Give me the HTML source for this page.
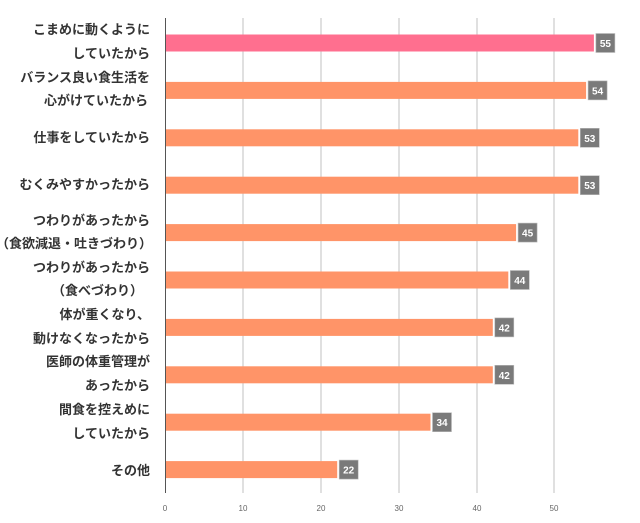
<!DOCTYPE html>
<html><head><meta charset="utf-8"><style>
body{margin:0;background:#fff;width:640px;height:518px;overflow:hidden}
svg text{font-family:"Liberation Sans","Noto Sans CJK JP",sans-serif}
</style></head><body>
<svg width="640" height="518" xmlns="http://www.w3.org/2000/svg">
<g stroke="#d0d0d0" stroke-width="1.3">
<line x1="243" y1="18" x2="243" y2="493"/><line x1="321" y1="18" x2="321" y2="493"/>
<line x1="399" y1="18" x2="399" y2="493"/><line x1="477" y1="18" x2="477" y2="493"/>
<line x1="554" y1="18" x2="554" y2="493"/>
</g>
<line x1="165.5" y1="18" x2="165.5" y2="493" stroke="#555" stroke-width="1"/>
<g font-size="8" fill="#666" text-anchor="middle">
<text x="165" y="511">0</text><text x="243" y="511">10</text><text x="321" y="511">20</text>
<text x="399" y="511">30</text><text x="477" y="511">40</text><text x="554" y="511">50</text>
</g>
<g>
<rect x="166" y="34.5" width="427.9" height="17" fill="#ff6f8f"/>
<rect x="166" y="81.9" width="420.1" height="17" fill="#ff9468"/>
<rect x="166" y="129.3" width="412.3" height="17" fill="#ff9468"/>
<rect x="166" y="176.7" width="412.3" height="17" fill="#ff9468"/>
<rect x="166" y="224.1" width="350.1" height="17" fill="#ff9468"/>
<rect x="166" y="271.5" width="342.3" height="17" fill="#ff9468"/>
<rect x="166" y="318.9" width="326.8" height="17" fill="#ff9468"/>
<rect x="166" y="366.3" width="326.8" height="17" fill="#ff9468"/>
<rect x="166" y="413.7" width="264.5" height="17" fill="#ff9468"/>
<rect x="166" y="461.1" width="171.2" height="17" fill="#ff9468"/>
</g>
<g fill="#7a7a7a" stroke="#bbb" stroke-width="0.6">
<rect x="595.9" y="33.5" width="19" height="19"/>
<rect x="588.1" y="80.9" width="19" height="19"/>
<rect x="580.3" y="128.3" width="19" height="19"/>
<rect x="580.3" y="175.7" width="19" height="19"/>
<rect x="518.1" y="223.1" width="19" height="19"/>
<rect x="510.3" y="270.5" width="19" height="19"/>
<rect x="494.8" y="317.9" width="19" height="19"/>
<rect x="494.8" y="365.3" width="19" height="19"/>
<rect x="432.5" y="412.7" width="19" height="19"/>
<rect x="339.2" y="460.1" width="19" height="19"/>
</g>
<g font-size="10" font-weight="bold" fill="#fff" text-anchor="middle">
<text x="605.4" y="47">55</text>
<text x="597.6" y="94.4">54</text>
<text x="589.8" y="141.8">53</text>
<text x="589.8" y="189.2">53</text>
<text x="527.6" y="236.6">45</text>
<text x="519.8" y="284">44</text>
<text x="504.3" y="331.4">42</text>
<text x="504.3" y="378.8">42</text>
<text x="442" y="426.2">34</text>
<text x="348.7" y="473.6">22</text>
</g>
<g font-size="13" font-weight="bold" fill="#333" text-anchor="end">
<text x="150" y="34">こまめに動くように</text><text x="150" y="58">していたから</text>
<text x="150" y="82">バランス良い食生活を</text><text x="148" y="105">心がけていたから</text>
<text x="150" y="142">仕事をしていたから</text>
<text x="150" y="189">むくみやすかったから</text>
<text x="150" y="225">つわりがあったから</text><text x="152" y="248">（食欲減退・吐きづわり）</text>
<text x="150" y="272">つわりがあったから</text><text x="143" y="295">（食べづわり）</text>
<text x="150" y="319">体が重くなり、</text><text x="150" y="343">動けなくなったから</text>
<text x="150" y="366">医師の体重管理が</text><text x="150" y="390">あったから</text>
<text x="150" y="414">間食を控えめに</text><text x="150" y="438">していたから</text>
<text x="150" y="475">その他</text>
</g>
</svg>
</body></html>
